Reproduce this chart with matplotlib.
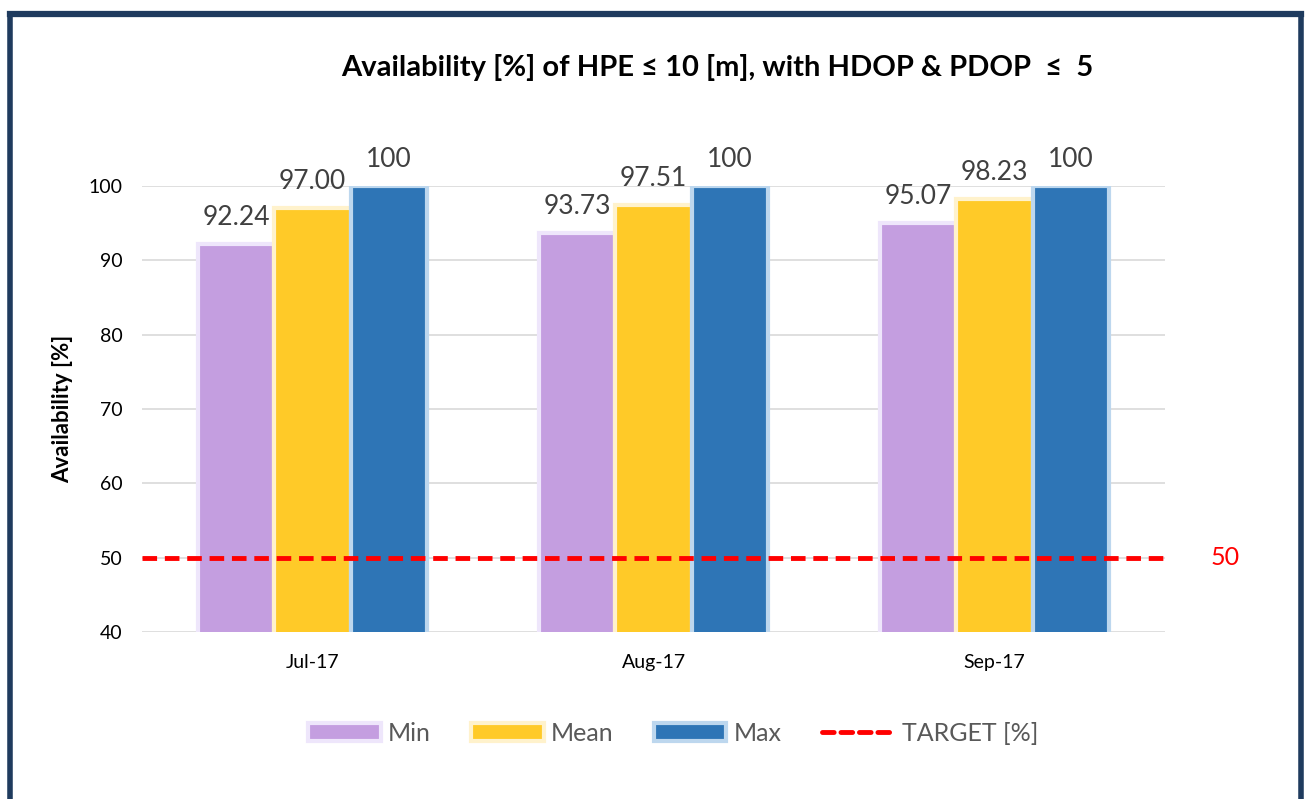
import matplotlib.pyplot as plt
import matplotlib.patches as mpatches
from matplotlib.lines import Line2D
import numpy as np

months = ['Jul-17', 'Aug-17', 'Sep-17']
min_vals = [92.24, 93.73, 95.07]
mean_vals = [97.00, 97.51, 98.23]
max_vals = [100, 100, 100]
min_labels = ['92.24', '93.73', '95.07']
mean_labels = ['97.00', '97.51', '98.23']
max_labels = ['100', '100', '100']
target = 50

plt.rcParams['font.family'] = ['Lato', 'DejaVu Sans']

fig = plt.figure(figsize=(13.07, 7.99), dpi=100)
ax = fig.add_axes([0.1086, 0.2090, 0.7828, 0.5582])

x = np.arange(len(months))
w = 0.224
series = [
    ('Min', min_vals, min_labels, '#C49EE0', '#EEE6FB'),
    ('Mean', mean_vals, mean_labels, '#FFCA28', '#FFF2CC'),
    ('Max', max_vals, max_labels, '#2E75B6', '#BDD7EE'),
]
handles = []
for i, (name, vals, labs, fc, ec) in enumerate(series):
    pos = x + (i - 1) * w
    ax.bar(pos, vals, width=w, color=fc, edgecolor=ec, linewidth=3, zorder=2)
    for p, v, t in zip(pos, vals, labs):
        ax.annotate(t, (p, v), xytext=(0, 10), textcoords='offset points',
                    ha='center', va='bottom', fontsize=19, color='#404040',
                    annotation_clip=False)
    handles.append(mpatches.Patch(facecolor=fc, edgecolor=ec, linewidth=3, label=name))

ax.plot([-0.5, 2.5], [target, target], color='#FF0000', linestyle=(0, (3, 1.6)),
        linewidth=3.5, zorder=3)
ax.text(2.675, target, str(target), color='#FF0000', fontsize=18, ha='center',
        va='center')
handles.append(Line2D([0], [0], color='#FF0000', linestyle=(0, (2.4, 1.4)),
                      linewidth=3.5, solid_capstyle='round', dash_capstyle='round',
                      label='TARGET [%]'))

ax.set_xlim(-0.5, 2.5)
ax.set_ylim(40, 100)
ax.set_yticks(range(40, 101, 10))
ax.set_xticks(x)
ax.set_xticklabels(months)
ax.tick_params(axis='both', length=0, labelsize=14, colors='black')
ax.tick_params(axis='y', pad=14)
ax.tick_params(axis='x', pad=16)
ax.grid(axis='y', color='#D9D9D9', linewidth=1.2, zorder=0)
ax.set_axisbelow(True)
for s in ax.spines.values():
    s.set_visible(False)
ax.set_ylabel('Availability [%]', fontsize=16, fontweight='bold', labelpad=11)

fig.text(0.5485, 0.915, 'Availability [%] of HPE \u2264 10 [m], with HDOP & PDOP  \u2264  5',
         ha='center', va='center', fontsize=21, fontweight='bold')

fig.legend(handles=handles, loc='center', bbox_to_anchor=(0.515, 0.082), ncol=4,
           frameon=False, fontsize=18, handlelength=2.9, handleheight=0.75,
           columnspacing=1.6, handletextpad=0.3, labelcolor='#595959')

# slide frame
fc = '#1F3B5E'
fig.add_artist(Line2D([0.0075, 0.0075], [0.0, 0.983], color=fc, linewidth=4))
fig.add_artist(Line2D([0.0075, 0.9955], [0.983, 0.983], color=fc, linewidth=4.5))
fig.add_artist(Line2D([0.9955, 0.9955], [0.0, 0.983], color=fc, linewidth=4))

fig.savefig('out.png', dpi=100)
